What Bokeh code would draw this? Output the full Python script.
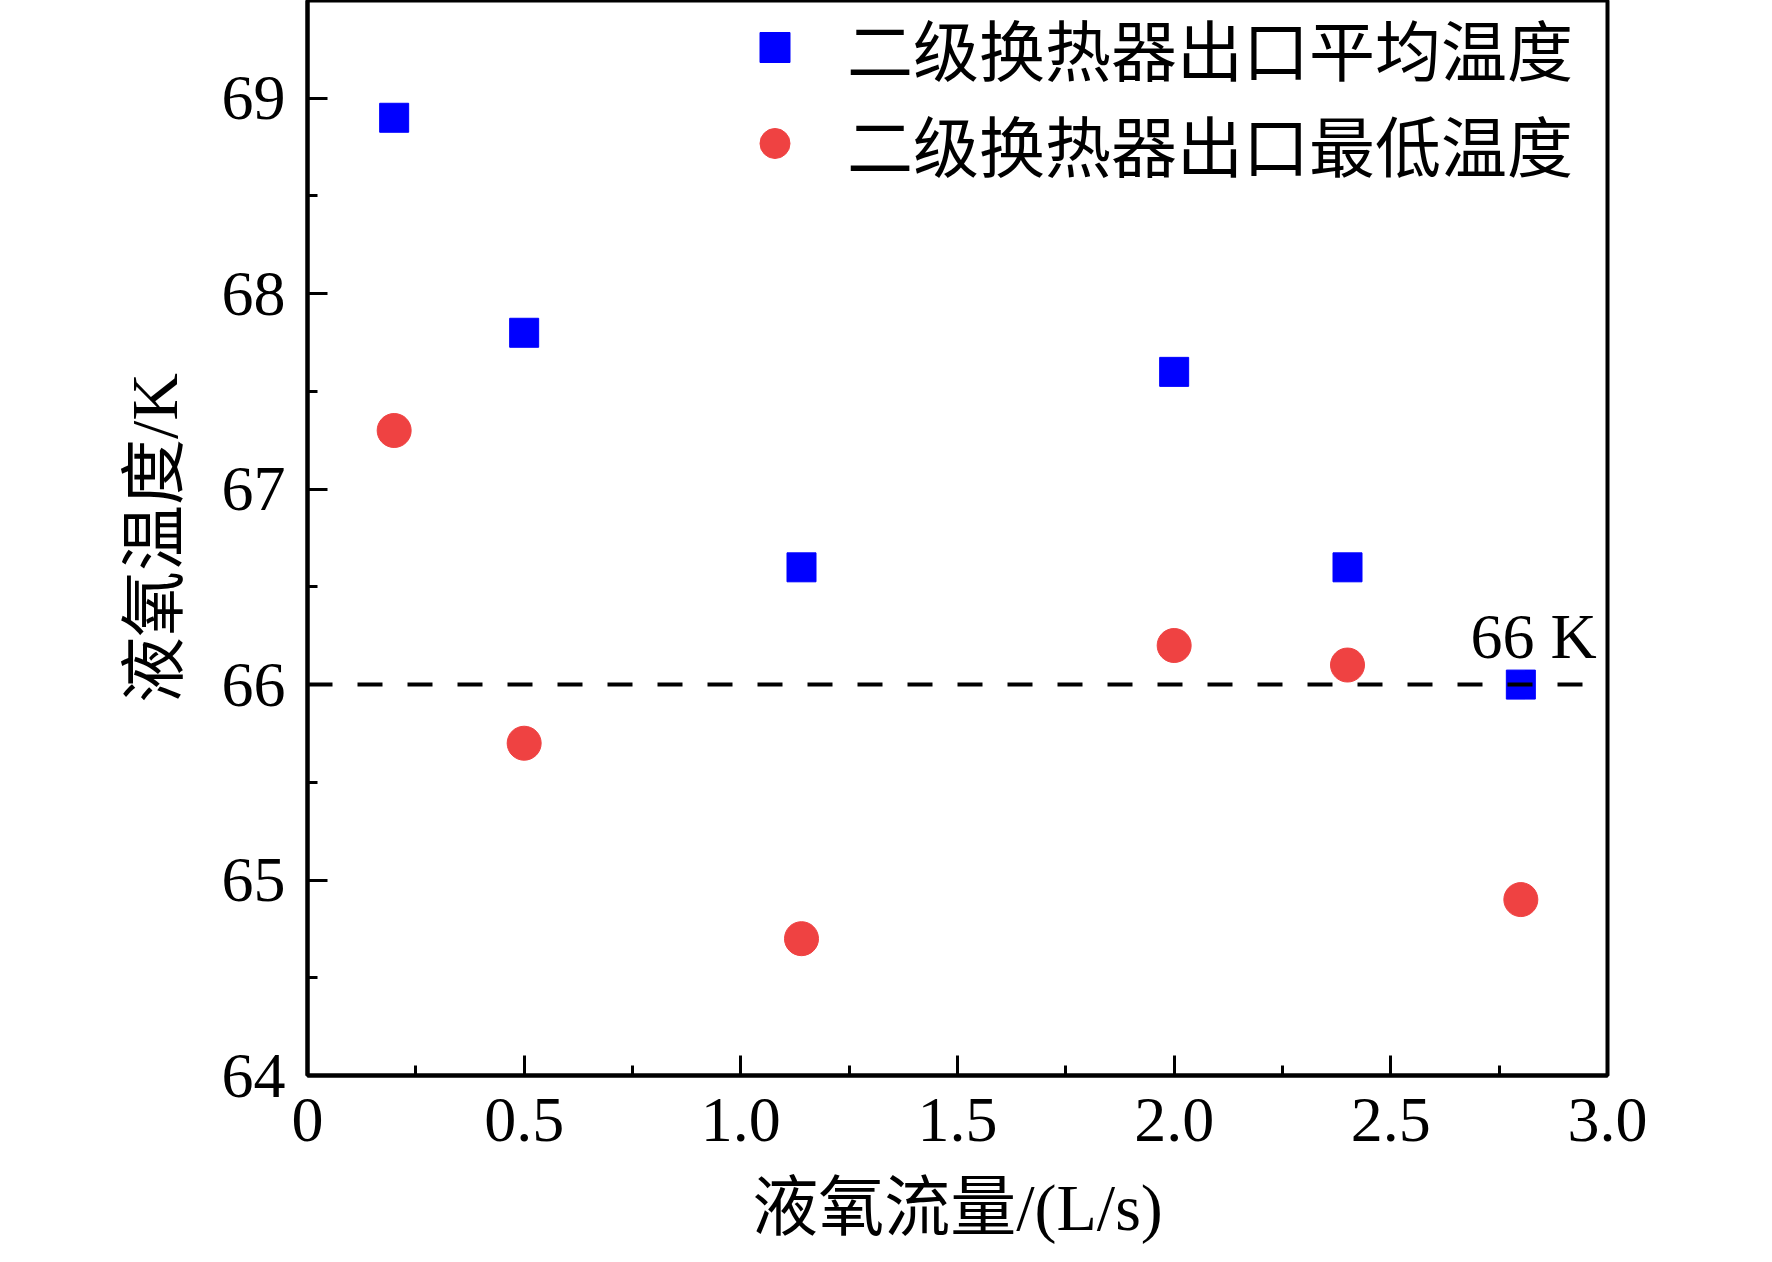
from bokeh.plotting import figure
from bokeh.models import Range1d, FixedTicker, Legend, LegendItem, NumeralTickFormatter
from bokeh.core.properties import value
from bokeh.embed import file_html
from bokeh.resources import INLINE

# ---- data ----
flow = [0.2, 0.5, 1.14, 2.0, 2.4, 2.8]
t_avg = [68.9, 67.8, 66.6, 67.6, 66.6, 66.0]
t_min = [67.3, 65.7, 64.7, 66.2, 66.1, 64.9]
name_avg = "二级换热器出口平均温度"
name_min = "二级换热器出口最低温度"
threshold = 66
ref_line_x = [0, 2.95]
ref_label = "66 K"
ref_label_pos = (2.975, 66.245)

x_ticks = [0, 0.5, 1.0, 1.5, 2.0, 2.5, 3.0]
x_tick_labels = ["0", "0.5", "1.0", "1.5", "2.0", "2.5", "3.0"]
x_minor = [0.25, 0.75, 1.25, 1.75, 2.25, 2.75]
y_ticks = [64, 65, 66, 67, 68, 69]
y_tick_labels = ["64", "65", "66", "67", "68", "69"]
y_minor = [64.5, 65.5, 66.5, 67.5, 68.5, 69.5]

x_label = "液氧流量/(L/s)"
y_label = "液氧温度/K"

SERIF = "Liberation Serif, Noto Sans CJK SC"
CJK = "Noto Sans CJK SC, Liberation Serif"

p = figure(width=1756, height=1246, output_backend="svg", toolbar_location=None,
           x_range=Range1d(0, 3.0), y_range=Range1d(64, 69.5),
           min_border_left=307, min_border_right=149, min_border_top=0,
           min_border_bottom=161)
p.background_fill_color = "white"
p.border_fill_color = "white"
p.grid.visible = False
p.outline_line_color = "black"
p.outline_line_width = 4

for ax, ticks, minor, labels in ((p.xaxis[0], x_ticks, x_minor, x_tick_labels),
                                 (p.yaxis[0], y_ticks, y_minor, y_tick_labels)):
    ax.ticker = FixedTicker(ticks=ticks, minor_ticks=minor)
    ax.major_label_overrides = dict(zip(ticks, labels))
    ax.axis_line_width = 4
    ax.major_tick_line_width = 3
    ax.minor_tick_line_width = 3
    ax.major_tick_in = 20
    ax.major_tick_out = 0
    ax.minor_tick_in = 10
    ax.minor_tick_out = 0
    ax.major_label_text_font = SERIF
    ax.major_label_text_font_size = "64px"
    ax.major_label_text_color = "black"
    ax.axis_label_text_font = SERIF
    ax.axis_label_text_font_size = "66px"
    ax.axis_label_text_font_style = "normal"
    ax.axis_label_text_color = "black"

p.xaxis.formatter = NumeralTickFormatter(format="0.0")
p.xaxis.axis_label = x_label
p.yaxis.axis_label = y_label
p.xaxis.major_label_standoff = 23
p.xaxis.axis_label_standoff = 27
p.yaxis.major_label_standoff = 22
p.yaxis.axis_label_standoff = 28

r_avg = p.scatter(flow, t_avg, marker="square", size=29, fill_color="#0000FF",
                  line_color="#0000FF", line_width=1)
r_min = p.scatter(flow, t_min, marker="circle", size=34, fill_color="#EF4242",
                  line_color="#EF4242", line_width=1)
p.line(ref_line_x, [threshold, threshold], line_color="black", line_width=4,
       line_dash="25 25")

p.text(x=[ref_label_pos[0]], y=[ref_label_pos[1]], text=[ref_label],
       text_font=value("Liberation Serif"), text_font_size="64px",
       text_align="right", text_baseline="alphabetic", text_color="black")

legend = Legend(items=[LegendItem(label=name_avg, renderers=[r_avg]),
                       LegendItem(label=name_min, renderers=[r_min])],
                location=(430, 884))
legend.background_fill_alpha = 0
legend.border_line_alpha = 0
legend.margin = 0
legend.padding = 0
legend.glyph_width = 75
legend.glyph_height = 96
legend.label_height = 96
legend.spacing = -11
legend.label_standoff = 35
legend.label_text_font = CJK
legend.label_text_font_size = "66px"
legend.label_text_color = "black"
legend.label_text_baseline = "middle"
p.add_layout(legend)

open("out.html", "w").write(file_html(p, INLINE))
